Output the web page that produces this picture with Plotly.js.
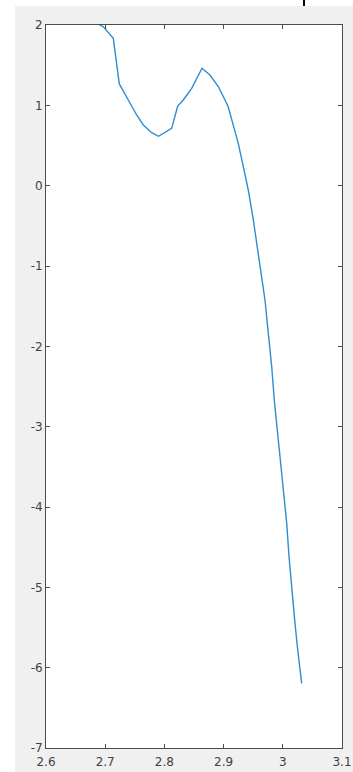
<!DOCTYPE html>
<html>
<head>
<meta charset="utf-8">
<script src="https://cdn.plot.ly/plotly-3.0.1.min.js"></script>
<style>
  html, body { margin: 0; padding: 0; background: #ffffff; width: 353px; height: 772px; overflow: hidden; }
  #plot { position: absolute; left: 15px; top: 6px; width: 338px; height: 766px; }
  #mark { position: absolute; left: 303px; top: 0px; width: 2px; height: 6px; background: #000; }
</style>
</head>
<body>
<div id="mark"></div>
<div id="plot"></div>
<script>
const xValues = [2.680, 2.6968, 2.7137, 2.7238, 2.739, 2.7532, 2.7644, 2.7785, 2.790,
  2.8123, 2.8225, 2.8319, 2.8461, 2.8635, 2.877, 2.891, 2.9074, 2.9164, 2.9248,
  2.9333, 2.9417, 2.9502, 2.9615, 2.9699, 2.9755, 2.9813, 2.9856, 2.9914, 2.9970,
  3.0020, 3.0066, 3.0105, 3.0150, 3.0206, 3.0252, 3.0319];
const yValues = [2.04, 1.979, 1.834, 1.266, 1.066, 0.880, 0.755, 0.659, 0.615,
  0.714, 0.992, 1.066, 1.212, 1.461, 1.378, 1.234, 0.992, 0.755, 0.527,
  0.236, -0.054, -0.427, -0.967, -1.423, -1.838, -2.254, -2.668, -3.083, -3.499,
  -3.870, -4.203, -4.619, -5.033, -5.448, -5.780, -6.195];
const xTickVals = [2.6, 2.7, 2.8, 2.9, 3.0, 3.1];
const xTickText = ["2.6", "2.7", "2.8", "2.9", "3", "3.1"];
const yTickVals = [-7, -6, -5, -4, -3, -2, -1, 0, 1, 2];
const yTickText = ["-7", "-6", "-5", "-4", "-3", "-2", "-1", "0", "1", "2"];

const axisCommon = {
  showline: true, mirror: 'ticks', linecolor: '#4d4d4d', linewidth: 1,
  ticks: 'inside', ticklen: 4, tickcolor: '#4d4d4d', tickwidth: 1,
  showgrid: false, zeroline: false, tickmode: 'array',
  tickfont: { family: 'DejaVu Sans', size: 12, color: '#404040' }
};

Plotly.newPlot('plot', [{
  x: xValues, y: yValues, type: 'scatter', mode: 'lines',
  line: { color: 'rgb(45,140,210)', width: 1.4 },
  hoverinfo: 'none', cliponaxis: true
}], {
  width: 338, height: 766,
  margin: { l: 31, r: 11, t: 19, b: 24, pad: 0 },
  paper_bgcolor: '#f0f0f0', plot_bgcolor: '#ffffff',
  showlegend: false,
  xaxis: Object.assign({}, axisCommon, { range: [2.6, 3.1], tickvals: xTickVals, ticktext: xTickText, ticklabelstandoff: 3 }),
  yaxis: Object.assign({}, axisCommon, { range: [-7, 2], tickvals: yTickVals, ticktext: yTickText })
}, { staticPlot: true, displayModeBar: false });
</script>
</body>
</html>
